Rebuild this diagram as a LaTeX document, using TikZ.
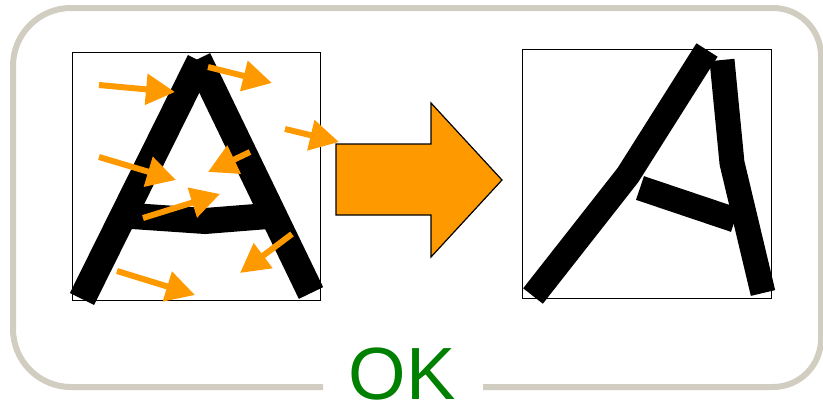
\documentclass[tikz,border=0pt]{standalone}
\usepackage{fontspec}
\setsansfont{Liberation Sans}
\usetikzlibrary{arrows.meta}
\definecolor{orng}{HTML}{FF9900}
\definecolor{frame}{HTML}{D1CDC0}
\definecolor{okgreen}{HTML}{008000}
\tikzset{
  outerframe/.style={draw=frame, line width=6pt},
  thinbox/.style={draw=black, line width=1.4pt},
  stroke/.style={draw=black, line width=25pt, line cap=butt, line join=miter},
  smallarrow/.style={draw=orng, line width=6pt, -{Triangle[length=29pt,width=30pt]}, orng},
  bigarrow/.style={fill=orng, draw=black, line width=1.2pt, line join=miter},
}
\begin{document}
\begin{tikzpicture}[x=1pt, y=-1pt]
\useasboundingbox (0,0) rectangle (823,402);
% outer frame with gap for label
\draw[outerframe] (483,387) [rounded corners=48pt] -- (821,387) -- (821,8) -- (417,8)
  [rounded corners=58pt] -- (13,8) -- (13,387) -- (323,387);
% boxes
\node[thinbox, minimum width=248pt, minimum height=248pt, inner sep=0pt, anchor=north west] (lbox) at (72,52) {};
\node[thinbox, minimum width=249pt, minimum height=249pt, inner sep=0pt, anchor=north west] (rbox) at (522,49) {};
% left A
\draw[stroke, line width=27pt] (82,299) -- (200,61);
\draw[stroke, line width=27pt] (198,59) -- (311,293);
\draw[stroke, line width=26pt] (132,216) -- (205,221) -- (268,216);
% orange small arrows
\coordinate (a1s) at (99,85);   \coordinate (a1e) at (175,92);
\coordinate (a2s) at (208,67);  \coordinate (a2e) at (272,83);
\coordinate (a3s) at (285,129); \coordinate (a3e) at (339,142);
\coordinate (a4s) at (99,157);  \coordinate (a4e) at (176,180);
\coordinate (a5s) at (250,152); \coordinate (a5e) at (208,172);
\coordinate (a6s) at (143,218); \coordinate (a6e) at (220,194);
\coordinate (a7s) at (292,234); \coordinate (a7e) at (240,273);
\coordinate (a8s) at (117,271); \coordinate (a8e) at (195,295);
\foreach \i in {1,...,8}{\draw[smallarrow] (a\i s) -- (a\i e);}
% big arrow
\draw[bigarrow] (336,144) -- (431,144) -- (431,103) -- (502,180) -- (431,257) -- (431,215) -- (336,215) -- cycle;
% right A
\draw[stroke] (533,296) -- (628,175) -- (707,50);
\draw[stroke] (722,60) -- (732,163) -- (763,293);
\draw[stroke] (640,188) -- (735,220);
% label
\node[text=okgreen, font=\fontsize{74}{74}\selectfont\sffamily, anchor=base, inner sep=0pt] (ok) at (402,399) {OK};
\end{tikzpicture}
\end{document}
